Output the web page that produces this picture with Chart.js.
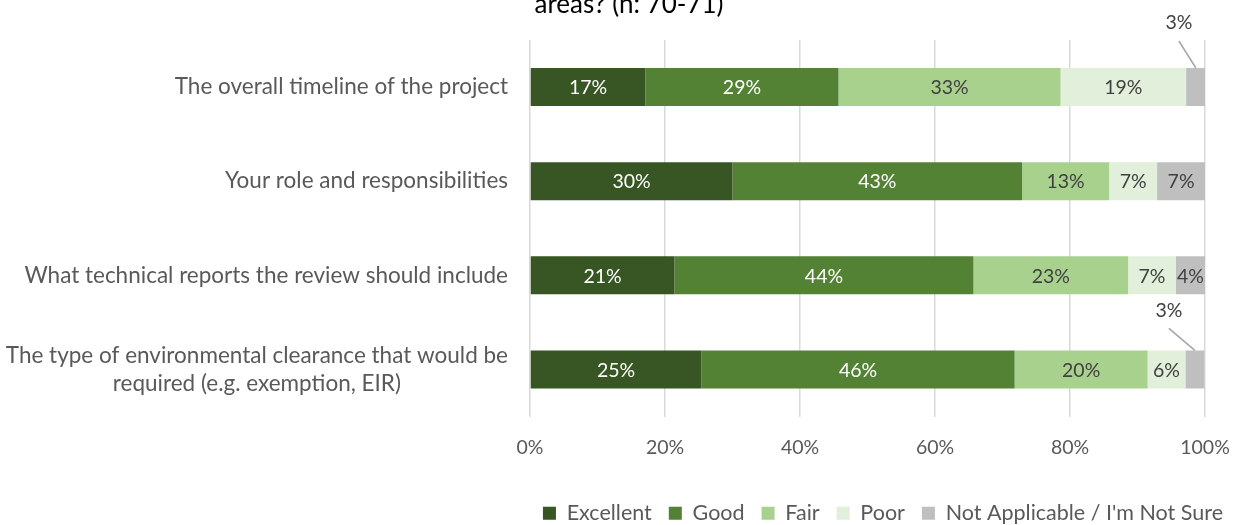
<!DOCTYPE html>
<html>
<head>
<meta charset="utf-8">
<script src="https://cdn.jsdelivr.net/npm/chart.js@4.4.1/dist/chart.umd.min.js"></script>
<style>
  html, body { margin: 0; padding: 0; background: #fff; }
  #wrap { width: 1240px; height: 525px; }
</style>
</head>
<body>
<div id="wrap"><canvas id="ratingChart" width="1240" height="525"></canvas></div>
<script>
const titleText = 'areas? (n: 70-71)';
const questions = [
    'The overall timeline of the project',
    'Your role and responsibilities',
    'What technical reports the review should include',
    ['The type of environmental clearance that would be', 'required (e.g. exemption, EIR)']
];
const ratings = ['Excellent', 'Good', 'Fair', 'Poor', "Not Applicable / I'm Not Sure"];
const excellent = [17.1, 30.0, 21.4, 25.4];
const good = [28.6, 42.9, 44.3, 46.4];
const fair = [32.9, 12.9, 22.9, 19.7];
const poor = [18.6, 7.1, 7.1, 5.6];
const notSure = [2.9, 7.1, 4.3, 2.8];
const xTicks = [0, 20, 40, 60, 80, 100];

const colors = ['#375623', '#548235', '#A9D18E', '#E2EFDA', '#BFBFBF'];
const labelColors = ['#ffffff', '#ffffff', '#404040', '#404040', '#404040'];
const fontFamily = 'Lato, "Open Sans", sans-serif';

// where the small slices put their label, relative to the top centre of the bar
const calloutOffsets = { 0: [-17, -45], 3: [-26, -40] };

const seriesValues = [excellent, good, fair, poor, notSure];

// question labels: single lines right aligned, wrapped ones centred on their widest line
const questionLabels = {
    id: 'questionLabels',
    afterDraw(chart) {
        const ctx = chart.ctx;
        const yScale = chart.scales.y;
        const right = yScale.right - 22;
        ctx.save();
        ctx.font = '22.5px ' + fontFamily;
        ctx.fillStyle = '#595959';
        ctx.textBaseline = 'middle';
        ctx.textAlign = 'center';
        chart.data.labels.forEach((label, i) => {
            const lines = Array.isArray(label) ? label : [label];
            const widest = Math.max(...lines.map(l => ctx.measureText(l).width));
            const cy = yScale.getPixelForTick(i);
            const lineH = 28;
            lines.forEach((line, k) => {
                const y = cy + (k - (lines.length - 1) / 2) * lineH;
                ctx.fillText(line, right - widest / 2, y);
            });
        });
        ctx.restore();
    }
};

const barLabels = {
    id: 'barLabels',
    afterDatasetsDraw(chart) {
        const ctx = chart.ctx;
        ctx.save();
        ctx.font = '19.5px ' + fontFamily;
        ctx.textAlign = 'center';
        ctx.textBaseline = 'middle';
        chart.data.datasets.forEach((ds, di) => {
            const meta = chart.getDatasetMeta(di);
            meta.data.forEach((bar, i) => {
                const value = ds.data[i];
                const text = Math.round(value) + '%';
                const left = Math.min(bar.x, bar.base);
                const width = Math.abs(bar.x - bar.base);
                const cx = left + width / 2;
                if (width < 25) {
                    const off = calloutOffsets[i] || [-20, -40];
                    const top = bar.y - bar.height / 2;
                    ctx.strokeStyle = '#A6A6A6';
                    ctx.lineWidth = 1.5;
                    ctx.beginPath();
                    ctx.moveTo(cx + off[0], top + off[1] + 18);
                    ctx.lineTo(cx, top);
                    ctx.stroke();
                    ctx.fillStyle = '#404040';
                    ctx.fillText(text, cx + off[0], top + off[1]);
                } else {
                    ctx.fillStyle = labelColors[di];
                    ctx.fillText(text, cx, bar.y + 1);
                }
            });
        });
        // title, its upper lines sit above the canvas
        ctx.font = '26px ' + fontFamily;
        ctx.fillStyle = '#000000';
        ctx.textBaseline = 'alphabetic';
        ctx.fillText(titleText, 629, 13);
        ctx.restore();
    }
};

// push the legend row down towards the bottom edge
const legendShift = {
    id: 'legendShift',
    afterLayout(chart) {
        chart.legend.top += 9;
        chart.legend.bottom += 9;
    }
};

new Chart(document.getElementById('ratingChart'), {
    type: 'bar',
    data: {
        labels: questions,
        datasets: ratings.map((name, i) => ({
            label: name,
            data: seriesValues[i],
            backgroundColor: colors[i],
            borderWidth: 0,
            categoryPercentage: 1,
            barPercentage: 0.405
        }))
    },
    options: {
        indexAxis: 'y',
        responsive: false,
        animation: false,
        layout: { padding: { top: 40, right: 0, left: 0, bottom: 0 } },
        scales: {
            x: {
                stacked: true,
                min: 0,
                max: 100,
                afterBuildTicks: scale => { scale.ticks = xTicks.map(v => ({ value: v })); },
                afterFit: scale => { scale.height = 60; scale.paddingRight = 35; },
                grid: { color: '#D9D9D9', lineWidth: 1.5, drawTicks: false },
                border: { display: false },
                ticks: {
                    padding: 20,
                    color: '#595959',
                    font: { family: fontFamily, size: 19.5 },
                    callback: v => v + '%'
                }
            },
            y: {
                stacked: true,
                afterFit: scale => { scale.width = 530; },
                grid: { display: false, drawTicks: false },
                border: { display: false },
                ticks: { display: false }
            }
        },
        plugins: {
            legend: {
                position: 'bottom',
                align: 'end',
                labels: {
                    boxWidth: 13,
                    boxHeight: 13,
                    padding: 17,
                    color: '#595959',
                    font: { family: fontFamily, size: 21.5 }
                }
            },
            title: { display: false },
            tooltip: { enabled: false }
        }
    },
    plugins: [questionLabels, barLabels, legendShift]
});
</script>
</body>
</html>
